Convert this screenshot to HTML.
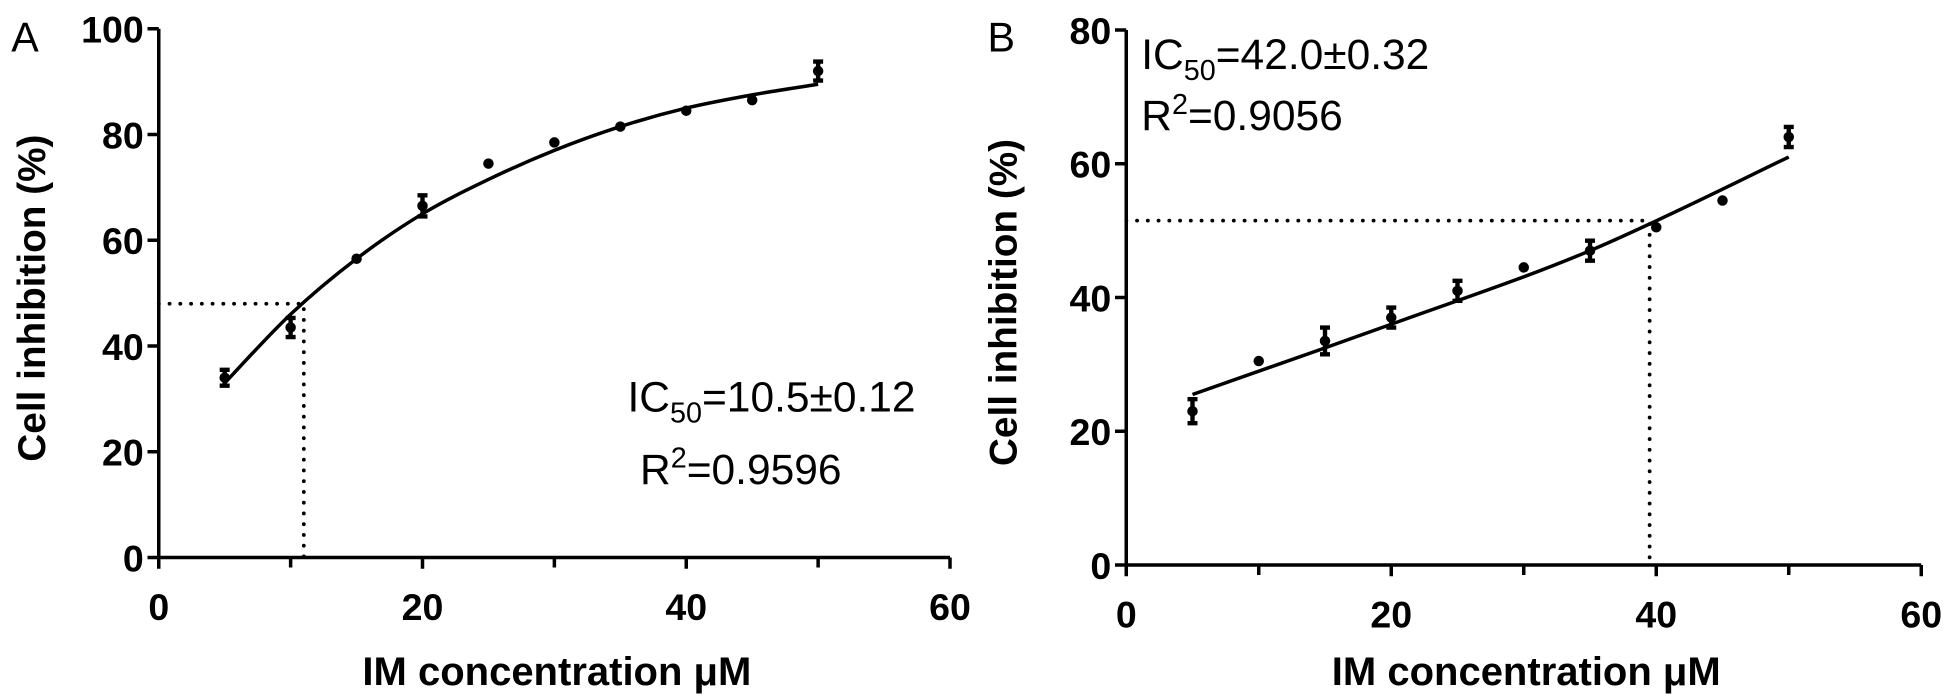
<!DOCTYPE html>
<html><head><meta charset="utf-8"><style>
body{margin:0;background:#fff}
svg{display:block;font-family:"Liberation Sans",Arial,sans-serif}
</style></head><body>
<svg id="s" width="1955" height="698" viewBox="0 0 1564 558.4" preserveAspectRatio="none"></svg>
<script>
const xTicks=[0,20,40,60];
const xMinor=[10,30,50];
const aYTicks=[0,20,40,60,80,100];
const bYTicks=[0,20,40,60,80];
const aX=[5,10,15,20,25,30,35,40,45,50];
const aMean=[34,43.5,56.5,66.5,74.5,78.5,81.5,84.5,86.5,92];
const aErr=[1.5,1.8,0,2,0,0,0,0,0,1.8];
const aFit=[33,46,56.5,65,71.5,77,81.5,85,87.5,89.5];
const aIC=[11,48];
const bX=[5,10,15,20,25,30,35,40,45,50];
const bMean=[23,30.5,33.5,37,41,44.5,47,50.5,54.5,64];
const bErr=[1.8,0,2,1.5,1.5,0,1.5,0,0,1.5];
const bFitX=[5,20,35,50];
const bFit=[25.5,36,47,61];
const bIC=[39.5,51.5];
const NS="http://www.w3.org/2000/svg";
const svg=document.getElementById('s');
function el(t,a,p){const e=document.createElementNS(NS,t);for(const k in a)e.setAttribute(k,a[k]);(p||svg).appendChild(e);return e;}
function smooth(pts){
  let d=`M${pts[0][0]},${pts[0][1]}`;
  for(let i=0;i<pts.length-1;i++){
    const p0=pts[Math.max(0,i-1)],p1=pts[i],p2=pts[i+1],p3=pts[Math.min(pts.length-1,i+2)];
    const c1=[p1[0]+(p2[0]-p0[0])/6,p1[1]+(p2[1]-p0[1])/6];
    const c2=[p2[0]-(p3[0]-p1[0])/6,p2[1]-(p3[1]-p1[1])/6];
    d+=`C${c1[0]},${c1[1]} ${c2[0]},${c2[1]} ${p2[0]},${p2[1]}`;
  }
  return d;
}
function panel(cfg){
  const g=el('g',{});
  
  
  const X=v=>cfg.x0+(cfg.x1-cfg.x0)*v/60;
  const Y=v=>cfg.y0-(cfg.y0-cfg.y1)*v/cfg.ymax;
  const ax=el('path',{d:`M${X(0)},${Y(cfg.ymax)}V${Y(0)}H${X(60)}`,stroke:'#000','stroke-width':2.8,fill:'none'},g);
  
  
  xMinor.forEach(t=>{el('line',{x1:X(t),x2:X(t),y1:Y(0),y2:Y(0)+8,stroke:'#000','stroke-width':2.8},g);});
  xTicks.forEach(t=>{
    el('line',{x1:X(t),x2:X(t),y1:Y(0),y2:Y(0)+9,stroke:'#000','stroke-width':2.8},g);
    const tx=el('text',{x:X(t),y:Y(0)+50,'text-anchor':'middle','font-size':30,'font-weight':'bold'},g);
    tx.textContent=t;
    
    
  });
  cfg.yt.forEach(t=>{
    el('line',{x1:X(0)-9,x2:X(0),y1:Y(t),y2:Y(t),stroke:'#000','stroke-width':2.8},g);
    const tx=el('text',{x:X(0)-12,y:Y(t)+11,'text-anchor':'end','font-size':30,'font-weight':'bold'},g);
    tx.textContent=t;
    
    
  });
  const yt=el('text',{transform:`translate(${cfg.ytx},${(Y(0)+Y(cfg.ymax))/2+4}) rotate(-90)`,'text-anchor':'middle','font-size':31,'font-weight':'bold'},g);
  yt.textContent='Cell inhibition (%)';
  
  
  const xt=el('text',{x:(X(0)+X(60))/2+2,y:548,'text-anchor':'middle','font-size':32,'font-weight':'bold'},g);
  xt.textContent='IM concentration μM';
  
  
  const lt=el('text',{x:cfg.lx,y:41,'font-size':33},g);
  lt.textContent=cfg.letter;
  
  
  const d=el('path',{d:`M${X(0)},${Y(cfg.ic[1])}H${X(cfg.ic[0])}V${Y(0)}`,stroke:'#000','stroke-width':3,fill:'none','stroke-dasharray':'0.1 8.5','stroke-linecap':'round'},g);
  
  
  const pts=cfg.fitX.map((x,i)=>[X(x),Y(cfg.fit[i])]);
  const f=el('path',{d:smooth(pts),stroke:'#000','stroke-width':2.8,fill:'none'},g);
  
  
  cfg.xs.forEach((x,i)=>{
    const m=cfg.mean[i],e=cfg.err[i];
    if(e>0){
      const eb=el('path',{d:`M${X(x)},${Y(m-e)}V${Y(m+e)}M${X(x)-4},${Y(m-e)}h8M${X(x)-4},${Y(m+e)}h8`,stroke:'#000','stroke-width':3.5},g);
      
      
    }
    const c=el('circle',{cx:X(x),cy:Y(m),r:4.2,fill:'#000'},g);
    
    
  });
  cfg.ann.forEach(a=>{
    const t=el('text',{x:a[0],y:a[1],'font-size':34},g);
    t.innerHTML=a[2];
    
    
  });
}
panel({name:'panel-a',letter:'A',lx:9,x0:127,x1:760,y0:446,y1:23,ymax:100,yt:aYTicks,ytx:36,
  xs:aX,mean:aMean,err:aErr,fit:aFit,fitX:aX,ic:aIC,
  ann:[[502,329,'IC<tspan font-size="23" dy="9">50</tspan><tspan dy="-9">=10.5±0.12</tspan>'],[512,387,'R<tspan font-size="23" dy="-13">2</tspan><tspan dy="13">=0.9596</tspan>']]});
panel({name:'panel-b',letter:'B',lx:790,x0:901,x1:1537,y0:452,y1:24,ymax:80,yt:bYTicks,ytx:813,
  xs:bX,mean:bMean,err:bErr,fit:bFit,fitX:bFitX,ic:bIC,
  ann:[[913,55,'IC<tspan font-size="23" dy="9">50</tspan><tspan dy="-9">=42.0±0.32</tspan>'],[913,104,'R<tspan font-size="23" dy="-13">2</tspan><tspan dy="13">=0.9056</tspan>']]});
</script>
</body></html>
